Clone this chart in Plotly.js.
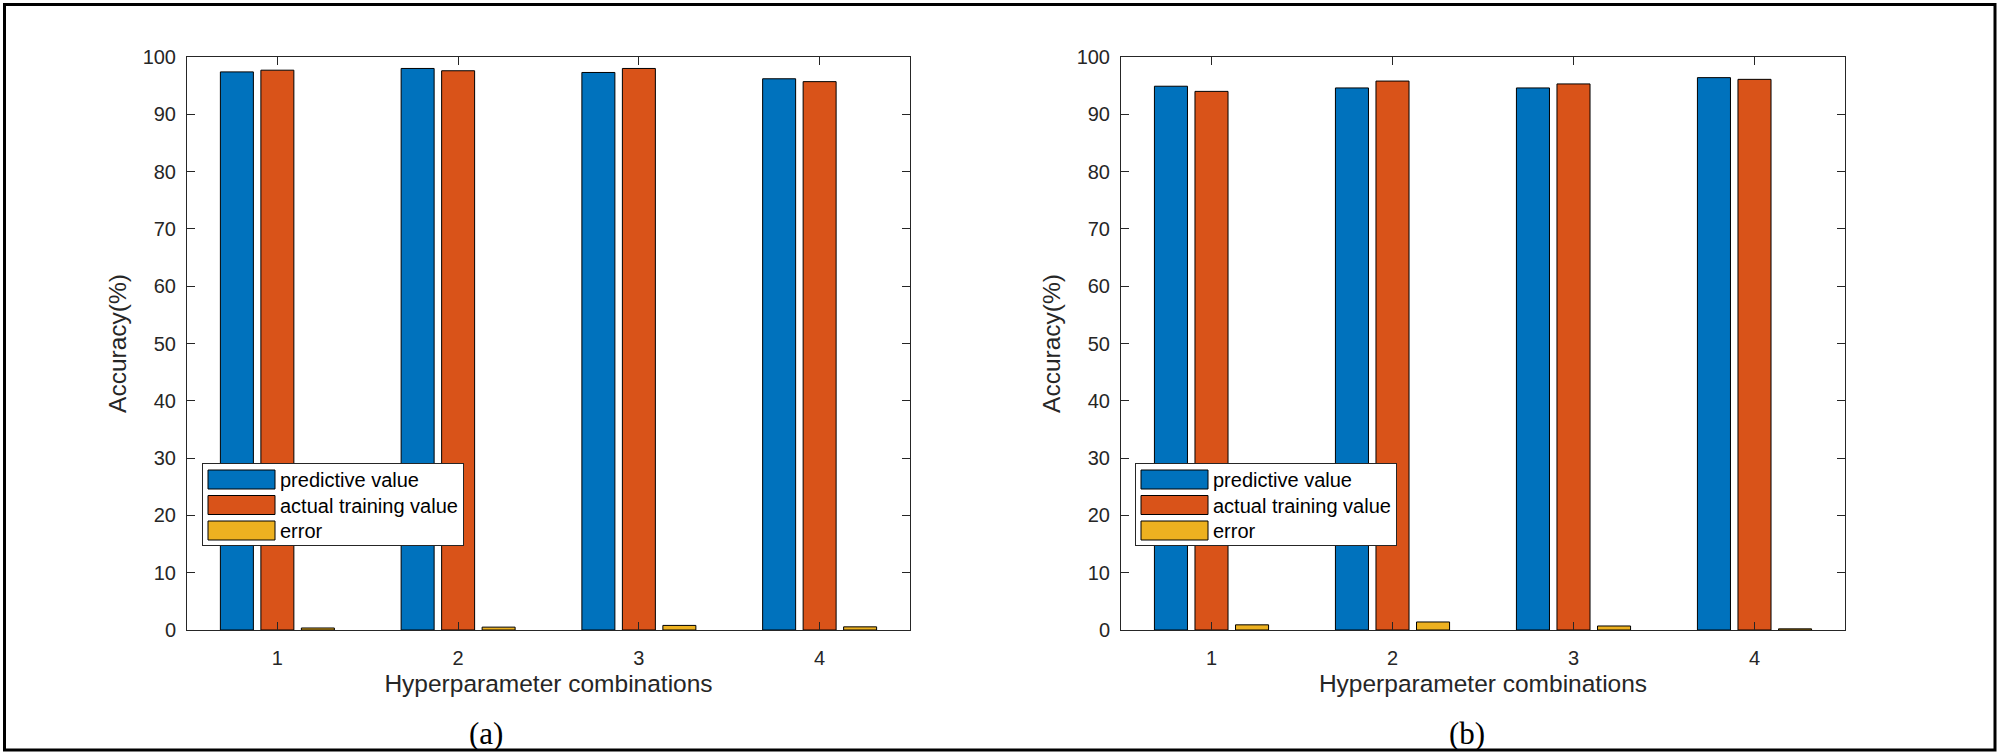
<!DOCTYPE html>
<html>
<head>
<meta charset="utf-8">
<script src="https://cdn.plot.ly/plotly-3.0.1.min.js"></script>
<style>
  html, body { margin: 0; padding: 0; background: #ffffff; }
  #chart { width: 2000px; height: 754px; }
</style>
</head>
<body>
<div id="chart"></div>
<script>
// ---------- data ----------
const combos = [1, 2, 3, 4];
const tickLabels = ['1', '2', '3', '4'];
const seriesNames = ['predictive value', 'actual training value', 'error'];

const predA  = [97.4, 98.0, 97.3, 96.2];
const actualA = [97.7, 97.6, 98.0, 95.7];
const errorA = [0.35, 0.5, 0.8, 0.55];

const predB  = [94.9, 94.6, 94.6, 96.4];
const actualB = [94.0, 95.8, 95.3, 96.1];
const errorB = [0.9, 1.4, 0.7, 0.2];

const panelLabels = ['(a)', '(b)'];
const xTitle = 'Hyperparameter combinations';
const yTitle = 'Accuracy(%)';

// ---------- style ----------
const colors = ['#0072BD', '#D95319', '#EDB120'];
const textColor = '#262626';
const sansFont = 'Arial, "Liberation Sans", Helvetica, sans-serif';
const serifFont = '"Times New Roman", "Liberation Serif", serif';
const W = 2000, H = 754;

function px(x) { return x / W; }
function py(y) { return (H - y) / H; }

function makeTraces(values, xa, ya, legendName) {
  return values.map((v, i) => ({
    type: 'bar',
    x: combos,
    y: v,
    name: seriesNames[i],
    xaxis: xa,
    yaxis: ya,
    legend: legendName,
    marker: { color: colors[i], line: { color: '#000000', width: 1 } },
    hoverinfo: 'skip'
  }));
}

const traces = [
  ...makeTraces([predA, actualA, errorA], 'x', 'y', 'legend'),
  ...makeTraces([predB, actualB, errorB], 'x2', 'y2', 'legend2')
];

function xAxis(domain, anchor) {
  return {
    domain: domain,
    anchor: anchor,
    range: [0.5, 4.5],
    tickmode: 'array',
    tickvals: combos,
    ticktext: tickLabels,
    ticks: 'inside',
    ticklen: 8,
    tickwidth: 1,
    tickcolor: textColor,
    showline: true,
    linecolor: textColor,
    linewidth: 1,
    mirror: 'ticks',
    showgrid: false,
    zeroline: false,
    automargin: false,
    ticklabelstandoff: 10,
    tickfont: { family: sansFont, size: 20, color: textColor },
    title: { text: xTitle, standoff: 6, font: { family: sansFont, size: 24.5, color: textColor } }
  };
}
function yAxis(domain, anchor) {
  return {
    domain: domain,
    anchor: anchor,
    range: [0, 100],
    tick0: 0,
    dtick: 10,
    ticks: 'inside',
    ticklen: 8,
    tickwidth: 1,
    tickcolor: textColor,
    showline: true,
    linecolor: textColor,
    linewidth: 1,
    mirror: 'ticks',
    showgrid: false,
    zeroline: false,
    automargin: false,
    ticklabelstandoff: 6,
    tickfont: { family: sansFont, size: 20, color: textColor },
    title: { text: yTitle, standoff: 9, font: { family: sansFont, size: 24.5, color: textColor } }
  };
}

const yDom = [py(630), py(57)];

function legendBox(xLeft) {
  return {
    x: px(xLeft), y: py(463),
    xanchor: 'left', yanchor: 'top',
    bgcolor: '#ffffff',
    bordercolor: textColor,
    borderwidth: 1,
    itemwidth: 67,
    tracegroupgap: 0,
    font: { family: sansFont, size: 20, color: '#000000' }
  };
}

const layout = {
  width: W,
  height: H,
  margin: { l: 0, r: 0, t: 0, b: 0 },
  paper_bgcolor: '#ffffff',
  plot_bgcolor: '#ffffff',
  barmode: 'group',
  bargap: 0.328,
  bargroupgap: 0.185,
  showlegend: true,
  xaxis: xAxis([px(187), px(910)], 'y'),
  yaxis: yAxis(yDom, 'x'),
  xaxis2: xAxis([px(1121), px(1845)], 'y2'),
  yaxis2: yAxis(yDom, 'x2'),
  legend: legendBox(202),
  legend2: legendBox(1135),
  annotations: [
    { text: panelLabels[0], xref: 'paper', yref: 'paper', x: px(486), y: py(733),
      xanchor: 'center', yanchor: 'middle', showarrow: false,
      font: { family: serifFont, size: 31, color: '#000000' } },
    { text: panelLabels[1], xref: 'paper', yref: 'paper', x: px(1467), y: py(733),
      xanchor: 'center', yanchor: 'middle', showarrow: false,
      font: { family: serifFont, size: 31, color: '#000000' } }
  ],
  shapes: [
    { type: 'rect', xref: 'paper', yref: 'paper',
      x0: px(4.5), x1: px(1995), y0: py(750), y1: py(4.5),
      line: { color: '#000000', width: 3 }, fillcolor: 'rgba(0,0,0,0)', layer: 'above' }
  ]
};

function parseTranslate(el) {
  const t = el.getAttribute('transform') || '';
  const m = t.match(/translate\(\s*([-\d.e]+)[ ,]*([-\d.e]+)?\s*\)/);
  return m ? [parseFloat(m[1]), parseFloat(m[2] || 0)] : [0, 0];
}

Plotly.newPlot('chart', traces, layout, { staticPlot: true, displayModeBar: false }).then(function (gd) {
  // widen legend swatches to MATLAB-like long rectangles
  gd.querySelectorAll('.legendpoints path').forEach(function (p) {
    p.setAttribute('d', 'M33.5,9.5H-33.5V-9.5H33.5Z');
  });
  // tighten legend rows to MATLAB spacing
  const firstRow = 16, step = 25.5, newH = 82;
  const legends = gd.querySelectorAll('.infolayer > g.legend, .infolayer > g.legend2');
  legends.forEach(function (leg) {
    const items = Array.from(leg.querySelectorAll('g.traces'));
    const bg = leg.querySelector('rect.bg');
    if (!items.length || !bg) return;
    const bgY = parseFloat(bg.getAttribute('y')) || 0;
    items.forEach(function (it, i) {
      const p = parseTranslate(it);
      it.setAttribute('transform', 'translate(' + p[0] + ',' + (bgY + firstRow + i * step) + ')');
    });
    bg.setAttribute('height', newH);
  });
});
</script>
</body>
</html>
